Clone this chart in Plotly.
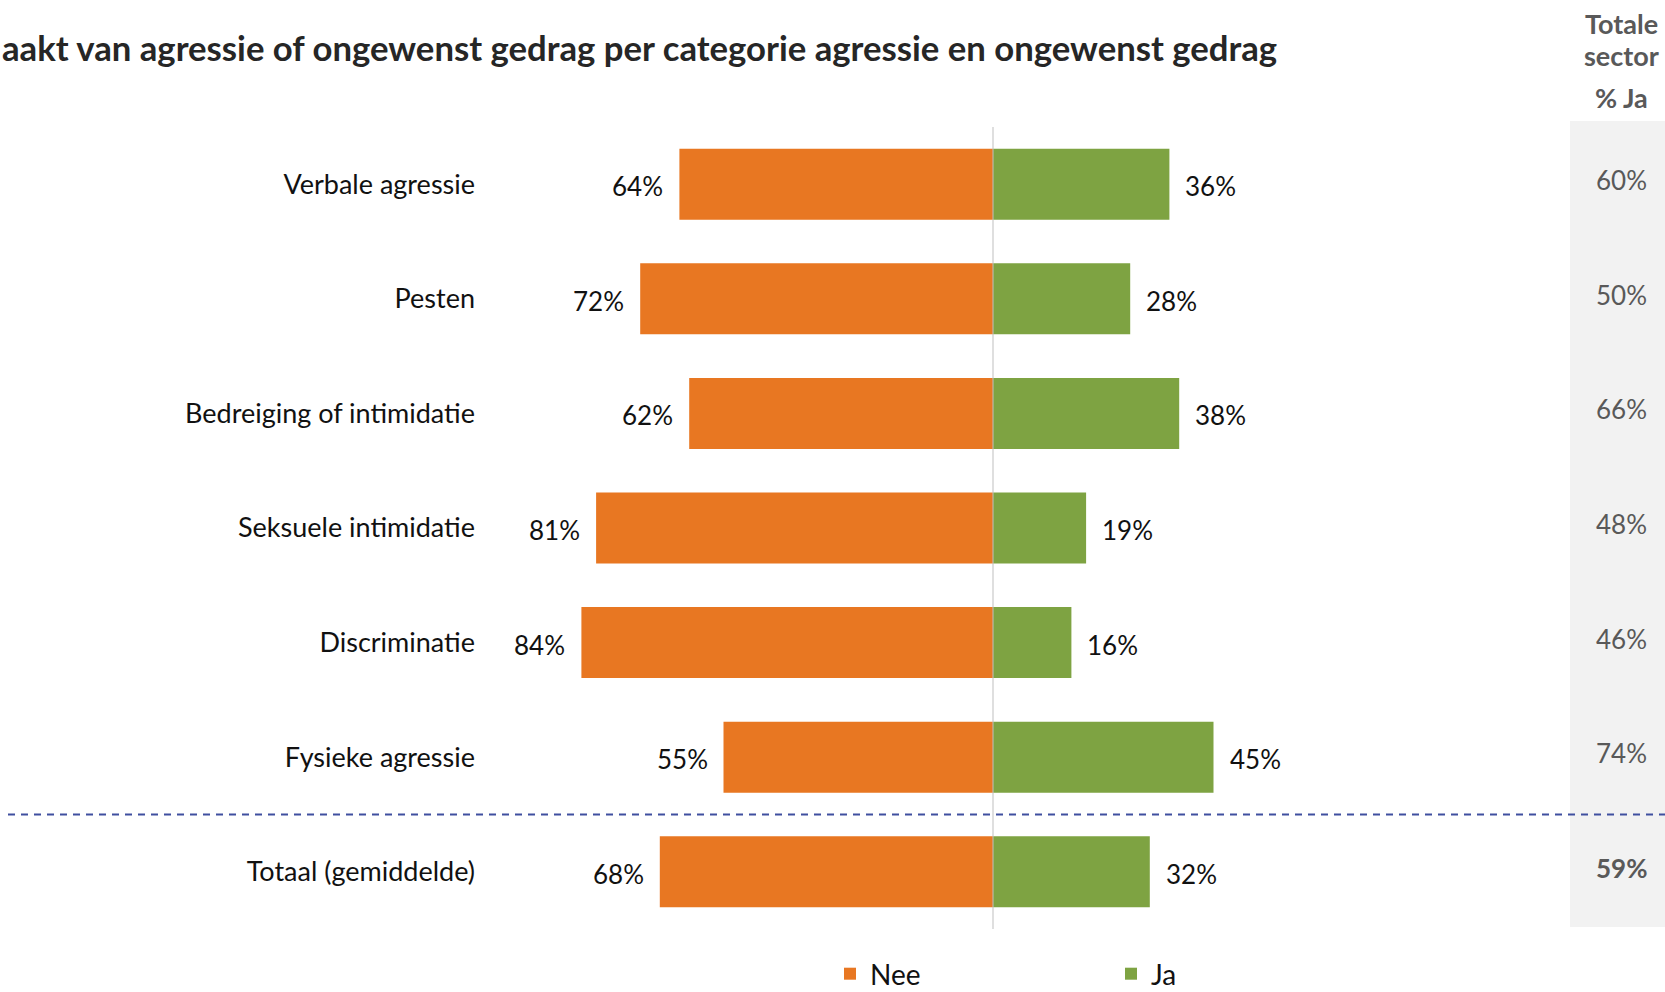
import plotly.graph_objects as go

categories = ['Verbale agressie', 'Pesten', 'Bedreiging of intimidatie',
              'Seksuele intimidatie', 'Discriminatie', 'Fysieke agressie',
              'Totaal (gemiddelde)']
nee = [64, 72, 62, 81, 84, 55, 68]
ja = [36, 28, 38, 19, 16, 45, 32]
sector_ja = [60, 50, 66, 48, 46, 74, 59]

title = 'aakt van agressie of ongewenst gedrag per categorie agressie en ongewenst gedrag'

ORANGE = '#E87722'
GREEN = '#7EA342'
FONT = 'Lato'

# pixel layout of the plot area
W, H = 1665, 992
L, R, T, B = 490, 1470, 127, 929
ZERO = 993
PX_PER = 4.9


def px(xp):
    return (xp - L) / (R - L)


def py(yp):
    return (B - yp) / (B - T)


fig = go.Figure()
fig.add_trace(go.Bar(y=categories, x=[-v for v in nee], orientation='h',
                     name='Nee', marker=dict(color=ORANGE, line=dict(width=0)),
                     width=0.62, hoverinfo='skip'))
fig.add_trace(go.Bar(y=categories, x=ja, orientation='h',
                     name='Ja', marker=dict(color=GREEN, line=dict(width=0)),
                     width=0.62, hoverinfo='skip'))

annotations = []
for c, n, j, s in zip(categories, nee, ja, sector_ja):
    annotations.append(dict(x=-n, y=c, text=f'{n}%', showarrow=False,
                            xanchor='right', xshift=-14, yshift=-2,
                            font=dict(size=26, color='#111111', family=FONT)))
    annotations.append(dict(x=j, y=c, text=f'{j}%', showarrow=False,
                            xanchor='left', xshift=14, yshift=-2,
                            font=dict(size=26, color='#111111', family=FONT)))
    bold = c == categories[-1]
    annotations.append(dict(x=px(1621), xref='paper', y=c, showarrow=False,
                            text=f'<b>{s}%</b>' if bold else f'{s}%',
                            xanchor='center', yshift=4,
                            font=dict(size=26, color='#595959', family=FONT)))

annotations += [
    dict(x=px(0), xref='paper', y=py(48), yref='paper', text=f'<b>{title}</b>',
         showarrow=False, xanchor='left', yanchor='middle',
         font=dict(size=34.7, color='#262626', family=FONT)),
    dict(x=px(1621), xref='paper', y=py(23), yref='paper', text='<b>Totale</b>',
         showarrow=False, xanchor='center', yanchor='middle',
         font=dict(size=27, color='#595959', family=FONT)),
    dict(x=px(1621), xref='paper', y=py(55), yref='paper', text='<b>sector</b>',
         showarrow=False, xanchor='center', yanchor='middle',
         font=dict(size=27, color='#595959', family=FONT)),
    dict(x=px(1621), xref='paper', y=py(98), yref='paper', text='<b>% Ja</b>',
         showarrow=False, xanchor='center', yanchor='middle',
         font=dict(size=27, color='#595959', family=FONT)),
]

shapes = [
    dict(type='rect', xref='paper', yref='paper', x0=px(1570), x1=px(1665),
         y0=py(927), y1=py(121), fillcolor='#F2F2F2', line=dict(width=0),
         layer='below'),
    dict(type='line', xref='x', yref='y', x0=0, x1=0, y0=-0.5, y1=6.5,
         line=dict(color='#BFBFBF', width=1), layer='above'),
    dict(type='line', xref='paper', yref='y', x0=px(8), x1=px(1665),
         y0=5.5, y1=5.5, line=dict(color='#3F4F9F', width=2, dash='7px,6px'),
         layer='above'),
]

fig.update_layout(
    width=W, height=H,
    margin=dict(l=L, r=W - R, t=T, b=H - B, pad=0),
    paper_bgcolor='white', plot_bgcolor='white',
    barmode='relative', bargap=0.38,
    font=dict(family=FONT, color='#111111'),
    xaxis=dict(range=[-(ZERO - L) / PX_PER, (R - ZERO) / PX_PER], visible=False,
               fixedrange=True),
    yaxis=dict(categoryorder='array', categoryarray=categories,
               range=[6.5, -0.5], showgrid=False, zeroline=False, showline=False,
               ticks='', ticklabelstandoff=14,
               tickfont=dict(size=27, color='#111111', family=FONT)),
    showlegend=True,
    legend=dict(orientation='h', xref='container', yref='container',
                x=830 / W, xanchor='left', y=1 - 974 / H,
                yanchor='middle', entrywidth=236, entrywidthmode='pixels',
                font=dict(size=28, color='#111111', family=FONT),
                traceorder='normal'),
    annotations=annotations,
    shapes=shapes,
)

fig.write_html('out.html', config={'displayModeBar': False},
               post_script="document.body.style.margin='0';"
                           "document.body.style.overflow='hidden';")
